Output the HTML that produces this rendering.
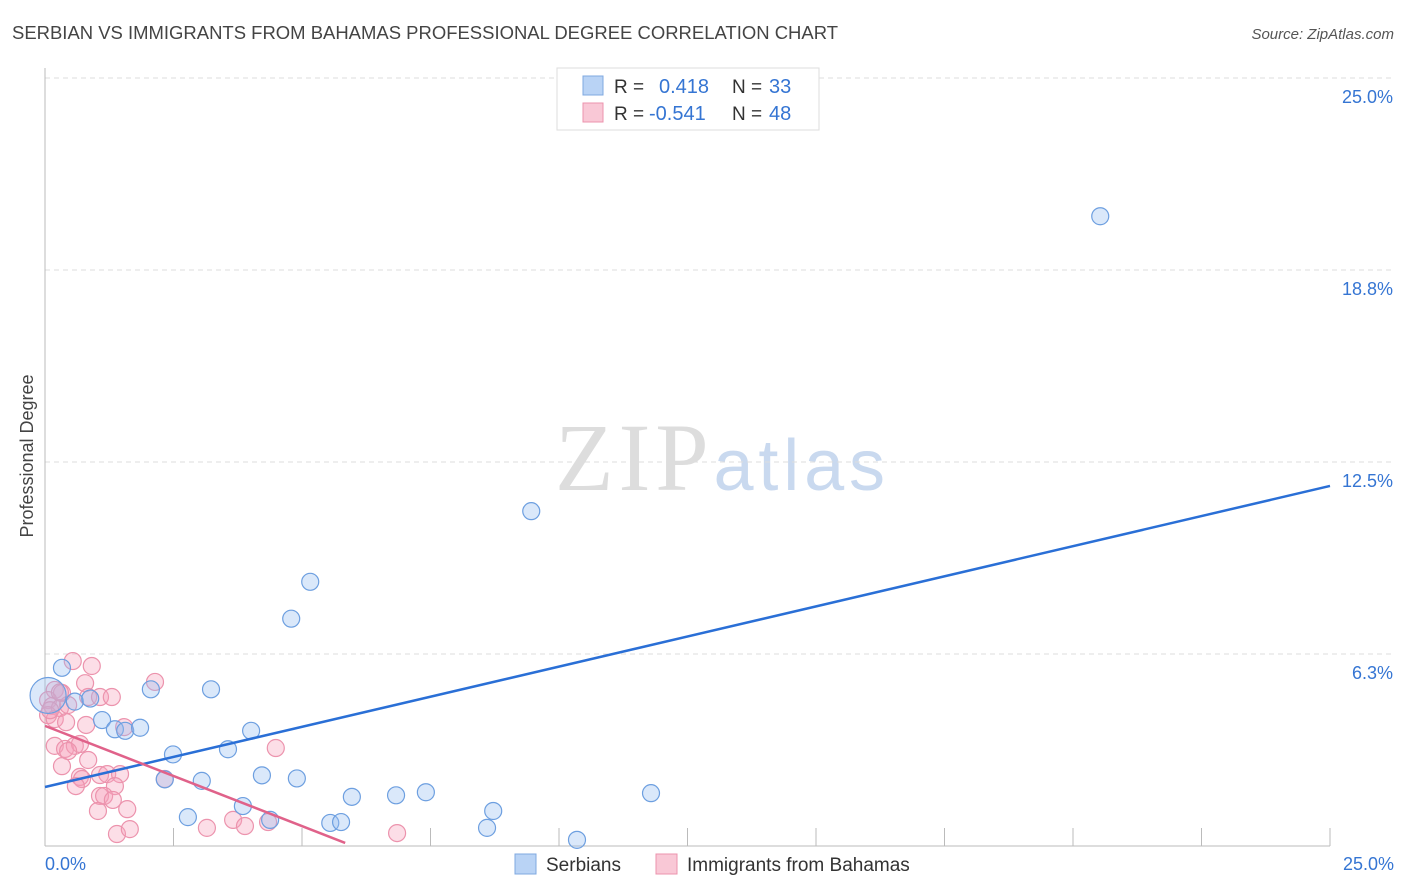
<!DOCTYPE html>
<html><head><meta charset="utf-8"><style>
body{margin:0;background:#fff;font-family:"Liberation Sans",sans-serif}
svg{display:block}
</style></head><body>
<svg id="chart" width="1406" height="892" xmlns="http://www.w3.org/2000/svg">
<text x="12" y="39" font-size="18" fill="#444" textLength="826" lengthAdjust="spacingAndGlyphs">SERBIAN VS IMMIGRANTS FROM BAHAMAS PROFESSIONAL DEGREE CORRELATION CHART</text>
<text x="1394" y="39" font-size="15" fill="#555" text-anchor="end" font-style="italic">Source: ZipAtlas.com</text>
<text x="720" y="490" font-size="96" text-anchor="middle" fill="#ddd" font-family="Liberation Serif" textLength="330">ZIP<tspan fill="#c9d9ef" font-family="Liberation Sans" font-size="72">atlas</tspan></text>
<text transform="translate(33,456) rotate(-90)" font-size="18" fill="#444" text-anchor="middle">Professional Degree</text>
<g id="grid"></g>
<g id="axes"></g>
<g id="marks"></g>
<g>
<rect x="557" y="68" width="262" height="62" fill="#fff" stroke="#ddd"/>
<rect x="583" y="76" width="20" height="19" fill="#b9d3f5" stroke="#7fa8e0"/>
<rect x="583" y="103" width="20" height="19" fill="#f9c8d6" stroke="#ec93ad"/>
<text x="614" y="93" font-size="19" fill="#333">R =</text>
<text x="659" y="93" font-size="20" fill="#3575d3">0.418</text>
<text x="732" y="93" font-size="19" fill="#333">N =</text>
<text x="769" y="93" font-size="20" fill="#3575d3">33</text>
<text x="614" y="120" font-size="19" fill="#333">R =</text>
<text x="649" y="120" font-size="20" fill="#3575d3">-0.541</text>
<text x="732" y="120" font-size="19" fill="#333">N =</text>
<text x="769" y="120" font-size="20" fill="#3575d3">48</text>
</g>
<g>
<rect x="515" y="854" width="21" height="20" fill="#b9d3f5" stroke="#7fa8e0"/>
<text x="546" y="871" font-size="19" fill="#333">Serbians</text>
<rect x="656" y="854" width="21" height="20" fill="#f9c8d6" stroke="#ec93ad"/>
<text x="687" y="871" font-size="19" fill="#333">Immigrants from Bahamas</text>
</g>
</svg>
<script>
const yTicks=[6.25,12.5,18.75,25];
const yTickLabels=["6.3%","12.5%","18.8%","25.0%"];
const xTickLabels=["0.0%","25.0%"];
const serbX=[0.33,0.06,0.58,0.88,1.11,1.36,1.56,1.85,2.06,2.33,2.49,2.78,3.05,3.23,3.56,3.85,4.01,4.22,4.38,4.79,4.90,5.16,5.55,5.76,5.97,6.83,7.41,8.60,8.72,9.46,10.35,11.79,20.53];
const serbY=[5.8,4.9,4.7,4.8,4.1,3.8,3.75,3.85,5.1,2.17,2.98,0.94,2.12,5.1,3.15,1.3,3.75,2.3,0.85,7.4,2.2,8.6,0.75,0.78,1.6,1.65,1.75,0.59,1.14,10.9,0.2,1.72,20.5];
const bahX=[0.54,0.91,0.19,0.33,0.06,0.14,0.29,0.45,0.78,0.84,1.07,1.30,0.06,0.19,0.41,2.14,1.54,0.19,0.39,0.58,0.68,0.45,0.84,0.68,0.72,1.07,1.21,1.46,0.60,1.36,1.07,1.15,1.32,1.03,1.60,1.40,1.65,2.33,3.15,3.66,3.89,4.34,4.49,6.85,0.29,0.10,0.80,0.33];
const bahY=[6.02,5.86,5.08,4.98,4.75,4.56,4.49,4.59,5.3,4.85,4.85,4.85,4.26,4.13,4.03,5.34,3.87,3.26,3.16,3.26,3.32,3.09,2.8,2.25,2.18,2.31,2.34,2.34,1.95,1.95,1.63,1.63,1.5,1.14,1.2,0.39,0.55,2.18,0.59,0.85,0.65,0.78,3.19,0.42,5.0,4.42,3.94,2.6];
const blueTrendX=[0,25],blueTrendY=[1.92,11.72];
const pinkTrendX=[0,5.84],pinkTrendY=[3.91,0.1];
const X0=45,X1=1330,Y0=846,Y1=78;
const xs=v=>X0+v/25*(X1-X0), ys=v=>Y0-v/25*(Y0-Y1);
const NS="http://www.w3.org/2000/svg";
function mk(tag,attrs,parent){const e=document.createElementNS(NS,tag);for(const k in attrs)e.setAttribute(k,attrs[k]);parent.appendChild(e);return e;}
const grid=document.getElementById('grid'),axes=document.getElementById('axes'),marks=document.getElementById('marks');
yTicks.forEach((t,i)=>{
 const l=mk('line',{x1:X0,x2:1394,y1:ys(t),y2:ys(t),stroke:'#ddd','stroke-dasharray':'5,4'},grid);
 
 
 const tx=mk('text',{x:1393,y:ys(t)+25,'font-size':18,fill:'#3575d3','text-anchor':'end'},axes);
 tx.textContent=yTickLabels[i];
 
 
});
const ax=mk('line',{x1:X0,x2:X1,y1:Y0,y2:Y0,stroke:'#bbb'},axes);


const ay=mk('line',{x1:X0,x2:X0,y1:68,y2:Y0,stroke:'#bbb'},axes);


for(let i=1;i<=10;i++){const x=xs(i*2.5);const t=mk('line',{x1:x,x2:x,y1:Y0,y2:Y0-18,stroke:'#bbb'},axes);
 
 }
[[0,'start',45],[25,'end',1394]].forEach((d,i)=>{const t=mk('text',{x:d[2],y:870,'font-size':18,fill:'#3575d3','text-anchor':d[1]},axes);t.textContent=xTickLabels[i];
 
 });
bahX.forEach((v,i)=>{const c=mk('circle',{cx:xs(v),cy:ys(bahY[i]),r:8.5,fill:'rgba(246,160,185,0.35)',stroke:'#ec93ad','stroke-width':1.2},marks);
 
 });
serbX.forEach((v,i)=>{const c=mk('circle',{cx:xs(v),cy:ys(serbY[i]),r:i==1?18:8.5,fill:'rgba(150,190,240,0.35)',stroke:'#6d9fe0','stroke-width':1.2},marks);
 
 });
const bl=mk('line',{x1:xs(blueTrendX[0]),y1:ys(blueTrendY[0]),x2:xs(blueTrendX[1]),y2:ys(blueTrendY[1]),stroke:'#2a6fd6','stroke-width':2.5},marks);


const pl=mk('line',{x1:xs(pinkTrendX[0]),y1:ys(pinkTrendY[0]),x2:xs(pinkTrendX[1]),y2:ys(pinkTrendY[1]),stroke:'#e0628a','stroke-width':2.5},marks);


</script>
</body></html>
